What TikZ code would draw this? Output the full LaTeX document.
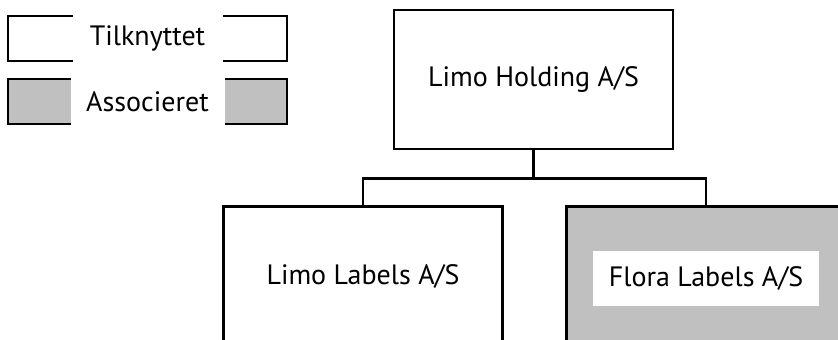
\documentclass[tikz,border=0pt]{standalone}
\usepackage{fontspec}
\setmainfont{PT Sans}
\usepackage{tikz}
\usetikzlibrary{calc}
\usetikzlibrary{positioning}
\definecolor{assoc}{RGB}{192,192,192}

\begin{document}
\begin{tikzpicture}[x=1pt,y=-1pt, orgbox/.style={draw,line width=2.8pt,minimum width=279pt,minimum height=139pt,inner sep=0pt,font=\fontsize{28}{32}\selectfont}, legbox/.style={draw,line width=2.8pt,minimum width=279pt,minimum height=45pt,inner sep=0pt}, legtext/.style={fill=white,inner sep=0pt,minimum height=60pt,font=\fontsize{28}{32}\selectfont}]

\useasboundingbox (0,0) rectangle (838,340);
\clip (0,0) rectangle (838,340);

\node[legbox] (tilk) at (147.5,38.5) {};
\node[legtext,minimum width=150pt] at (tilk) {Tilknyttet};
\node[legbox,fill=assoc] (assoc) at (147.5,101.5) {};
\node[legtext,minimum width=154pt] at (assoc) {Associeret};

\node[orgbox] (holding) at (533.5,79.5) {Limo Holding A/S};
\node[orgbox] (limo) at (363,276) {Limo Labels A/S};
\node[orgbox,fill=assoc] (flora) at (706,276) {};
\node[fill=white,inner sep=0pt,minimum width=226pt,minimum height=55pt,font=\fontsize{28}{32}\selectfont] (floratext) at (706,278.5) {Flora Labels A/S};

\coordinate (split) at ($(holding.south)+(0,28)$);
\draw[line width=2.8pt] (holding.south) -- (split);
\draw[line width=2.8pt] (limo.north) |- (split) -| (flora.north);
\end{tikzpicture}
\end{document}
